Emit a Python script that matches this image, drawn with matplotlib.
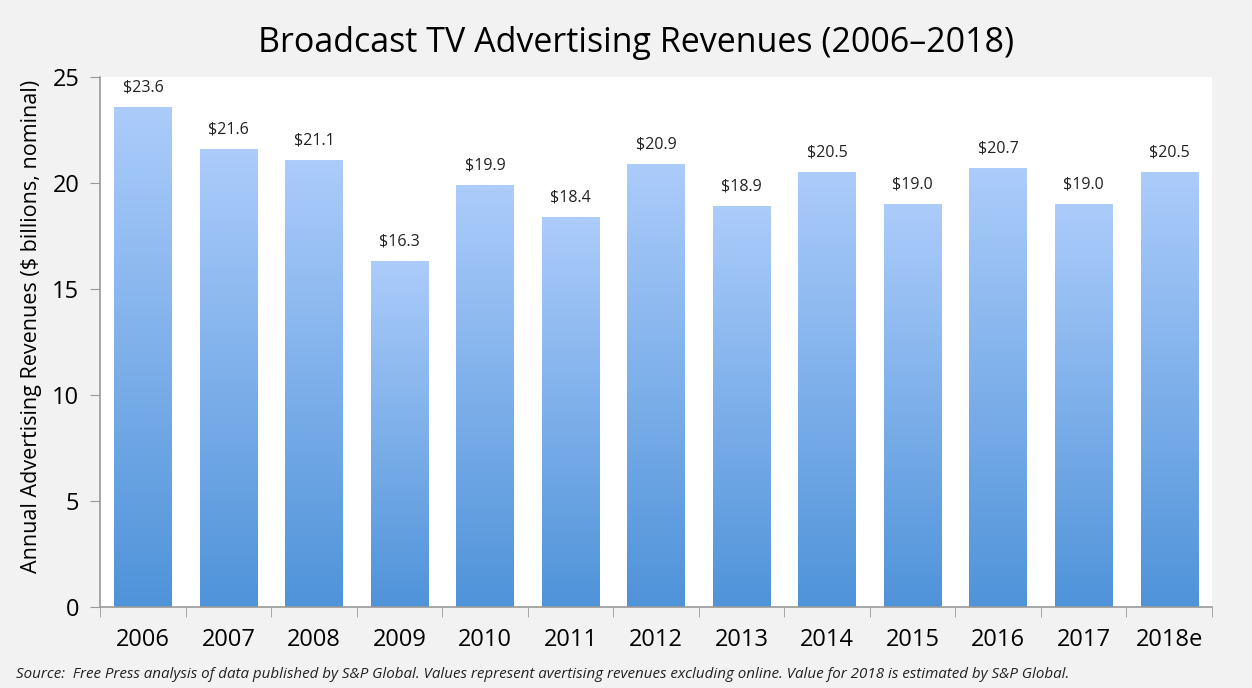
import numpy as np
import matplotlib.pyplot as plt
from matplotlib.colors import LinearSegmentedColormap

# data
years = ['2006', '2007', '2008', '2009', '2010', '2011', '2012',
         '2013', '2014', '2015', '2016', '2017', '2018e']
revenues = [23.6, 21.6, 21.1, 16.3, 19.9, 18.4, 20.9, 18.9, 20.5, 19.0, 20.7, 19.0, 20.5]
y_ticks = [0, 5, 10, 15, 20, 25]

plt.rcParams['font.family'] = ['Open Sans', 'DejaVu Sans']

fig = plt.figure(figsize=(12.52, 6.88), dpi=100, facecolor='#f2f2f2')
ax = fig.add_axes([0.08, 0.118, 0.888, 0.770])
ax.set_facecolor('white')

x = np.arange(len(years))
bars = ax.bar(x, revenues, width=0.67, color='none', edgecolor='none', zorder=2)

# vertical gradient, light at top, darker at bottom, per bar
cmap = LinearSegmentedColormap.from_list('grad', ['#4f93d9', '#acccfb'])
grad = np.linspace(0, 1, 256).reshape(-1, 1)
for b in bars:
    x0, w, h = b.get_x(), b.get_width(), b.get_height()
    im = ax.imshow(grad, cmap=cmap, aspect='auto', origin='lower',
                   extent=[x0, x0 + w, 0, h], zorder=2)
    im.set_clip_path(b)

for xi, v in zip(x, revenues):
    ax.text(xi, v + 0.55, '$%.1f' % v, ha='center', va='bottom', fontsize=11.5, color='#222222')

ax.set_xlim(-0.5, len(years) - 0.5)
ax.set_ylim(0, 25)
ax.set_yticks(y_ticks)
ax.set_yticklabels([str(t) for t in y_ticks], fontsize=17)
ax.set_xticks(x)
ax.set_xticklabels(years, fontsize=17)
ax.tick_params(axis='x', length=0, pad=15)
ax.set_xticks(np.arange(-0.5, len(years)), minor=True)
ax.tick_params(axis='x', which='minor', length=7, color='#999999', direction='out')
ax.tick_params(axis='y', length=7, color='#999999', pad=8)

for s in ['top', 'right']:
    ax.spines[s].set_visible(False)
for s in ['left', 'bottom']:
    ax.spines[s].set_color('#999999')
    ax.spines[s].set_linewidth(1.2)

ax.set_ylabel('Annual Advertising Revenues ($ billions, nominal)', fontsize=15.5)
ax.yaxis.set_label_coords(-0.052, 0.53)

fig.text(0.508, 0.937, 'Broadcast TV Advertising Revenues (2006\u20132018)',
         ha='center', va='center', fontsize=24.5, color='black')
fig.text(0.013, 0.008, 'Source:  Free Press analysis of data published by S&P Global. '
         'Values represent avertising revenues excluding online. Value for 2018 is estimated by S&P Global.',
         ha='left', va='bottom', fontsize=10.9, style='italic', color='#222222')

fig.savefig('out.png', dpi=100, facecolor=fig.get_facecolor())
